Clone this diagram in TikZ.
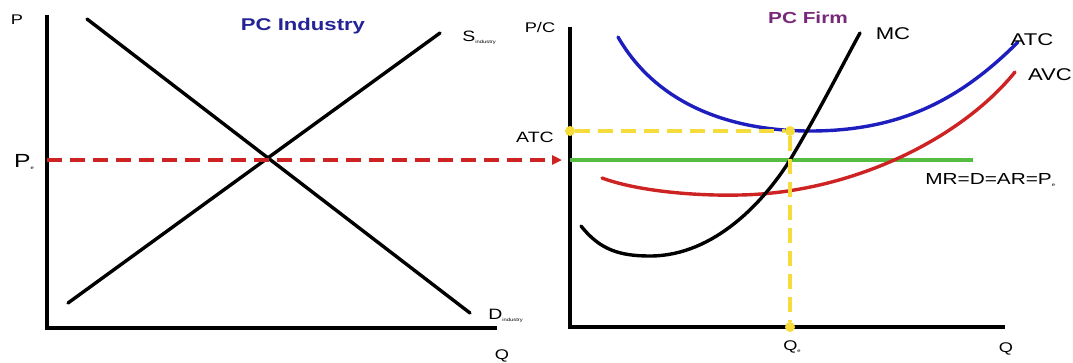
\documentclass[tikz,border=0pt]{standalone}
\usepackage{fontspec}
\setmainfont{Liberation Sans}
\usetikzlibrary{arrows.meta}
\definecolor{atcblue}{RGB}{30,30,190}
\definecolor{avcred}{RGB}{205,35,35}
\definecolor{mrgreen}{RGB}{85,190,65}
\definecolor{qyellow}{RGB}{245,220,60}
\definecolor{titleblue}{RGB}{35,35,150}
\definecolor{titlepurple}{RGB}{120,40,120}
\newcommand{\tinysub}[1]{\raisebox{-2pt}{\fontsize{4.5}{4.5}\selectfont #1}}

\begin{document}
\begin{tikzpicture}[x=1pt,y=1pt,yscale=-1,
  axis/.style={line width=4pt},
  curve/.style={line width=3.4pt,line cap=round},
  lbl/.style={inner sep=0pt,xscale=1.3,font=\fontsize{17}{17}\selectfont},
  smalllbl/.style={inner sep=0pt,xscale=1.3,font=\fontsize{14}{14}\selectfont},
  guide/.style={line width=3.4pt,dash pattern=on 15pt off 8pt},
  dot/.style={circle,fill=qyellow,inner sep=0pt,minimum size=10pt}]
\useasboundingbox (0,0) rectangle (1073,362);

%Axes industry
\coordinate (lo) at (47,328);
\draw [axis] (47,15) -- (lo) -- (497,328);
%Axes firm
\coordinate (ro) at (570,327);
\draw [axis] (570,27) -- (ro) -- (1005,327);

%Demand and supply
\draw [curve] (87,19) -- (470,313);
\draw [curve] (68,303) -- (440,33);

%Price line
\draw [guide,color=avcred,-{Triangle[length=10pt,width=9pt]}] (47,160) -- (562,160);
\draw [line width=3.4pt,color=mrgreen] (570,160) -- (973,160);

%ATC
\draw [curve,color=atcblue] (618,37) .. controls (660,110) and (740,131) .. (810,131) .. controls (900,131) and (960,100) .. (1018,42);
%AVC
\draw [curve,color=avcred] (602,178) .. controls (640,192) and (700,196) .. (740,195) .. controls (850,193) and (960,140) .. (1015,72);
%MC
\draw [curve] (581,226) .. controls (600,250) and (620,256) .. (650,256) .. controls (715,256) and (765,200) .. (790,160) .. controls (820,110) and (845,60) .. (860,33);

%Profit max guides
\node [dot] (atcdot) at (570,131) {};
\node [dot] (mindot) at (790,131) {};
\node [dot] (qdot) at (790,327) {};
\draw [guide,color=qyellow] (atcdot) -- (mindot);
\draw [guide,color=qyellow] (mindot) -- (qdot);

% Text Node
\node [smalllbl] (pleft) at (17,20) {P};
\node [lbl,font=\fontsize{19}{19}\selectfont] (pe) at (24,162) {P\tinysub{e}};
\node [lbl,font=\fontsize{17}{17}\selectfont\bfseries,text=titleblue] (indtitle) at (303,26) {PC Industry};
\node [lbl,anchor=west,font=\fontsize{15}{15}\selectfont] (slbl) at (462,38) {S\tinysub{industry}};
\node [lbl,anchor=west,font=\fontsize{15}{15}\selectfont] (dlbl) at (488,316) {D\tinysub{industry}};
\node [smalllbl] (qleft) at (502,356) {Q};
\node [smalllbl] (pclbl) at (540,27) {P/C};
\node [lbl,font=\fontsize{16}{16}\selectfont\bfseries,text=titlepurple] (firmtitle) at (808,18) {PC Firm};
\node [lbl] (mclbl) at (893,34) {MC};
\node [lbl] (atclbl) at (1032,40) {ATC};
\node [lbl] (avclbl) at (1050,75) {AVC};
\node [lbl,font=\fontsize{15}{15}\selectfont] (atcleft) at (535,137) {ATC};
\node [lbl,anchor=west,font=\fontsize{16}{16}\selectfont] (mrlbl) at (925,180) {MR=D=AR=P\tinysub{e}};
\node [smalllbl] (qe) at (792,347) {Q\tinysub{e}};
\node [smalllbl] (qright) at (1006,349) {Q};
\end{tikzpicture}
\end{document}
